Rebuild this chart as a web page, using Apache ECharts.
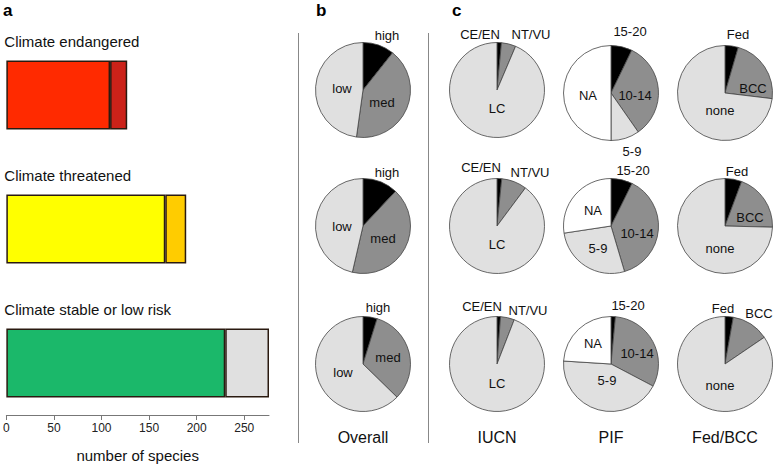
<!DOCTYPE html>
<html><head><meta charset="utf-8">
<script src="https://cdn.jsdelivr.net/npm/echarts@6/dist/echarts.min.js"></script>
<style>html,body{margin:0;padding:0;background:#fff}#c{width:775px;height:468px}</style>
</head><body><div id="c"></div>
<script>
// ---- data ----
const categories = ['Climate endangered', 'Climate threatened', 'Climate stable or low risk'];
const baseCounts = [109, 167, 230];
const extraCounts = [18, 22, 46];
const xTicks = [0, 50, 100, 150, 200, 250];

const riskLabels = ['high', 'med', 'low'];
const overall = [[10.7, 41.5, 47.8], [12.0, 41.6, 46.4], [4.8, 32.5, 62.7]];
const iucnLabels = ['CE/EN', 'NT/VU', 'LC'];
const iucn = [[1.5, 4.9, 93.6], [1.6, 8.6, 89.8], [1.2, 4.7, 94.1]];
const pifLabels = ['15-20', '10-14', '5-9', 'NA'];
const pif = [[7.2, 33.1, 9.7, 50.0], [7.3, 38.1, 27.2, 27.4], [1.5, 31.2, 43.3, 24.0]];
const fedLabels = ['Fed', 'BCC', 'none'];
const fed = [[4.5, 22.4, 73.1], [5.7, 19.7, 74.6], [2.8, 12.7, 84.5]];
const columnTitles = ['Overall', 'IUCN', 'PIF', 'Fed/BCC'];

// ---- layout / style ----
const FONT = 'Liberation Sans, Arial, sans-serif';
const baseColors = ['#ff2a00', '#ffff00', '#1bb86a'];
const extraColors = ['#cc2219', '#ffcc00', '#e0e0e0'];
const pieColors3 = ['#000000', '#8e8e8e', '#e0e0e0'];
const pieColors4 = ['#000000', '#8e8e8e', '#e0e0e0', '#ffffff'];
const colX = [363, 497, 611, 725];
const rowY = [[90, 226, 364], [90, 226, 364], [93, 226, 364], [93, 226, 364]];
const R = 47.5;

const groups = [
  {labels: riskLabels, vals: overall, colors: pieColors3},
  {labels: iucnLabels, vals: iucn, colors: pieColors3},
  {labels: pifLabels, vals: pif, colors: pieColors4},
  {labels: fedLabels, vals: fed, colors: pieColors3}
];
// label positions: [group, row, labelIndex, x, y]
const labelPos = [
  [0,0,0,387,35],[0,0,1,382,102],[0,0,2,342,88],
  [0,1,0,387,172],[0,1,1,383,238],[0,1,2,342,226],
  [0,2,0,378,307],[0,2,1,388,357],[0,2,2,343,372],
  [1,0,0,480,34],[1,0,1,531,34],[1,0,2,497,108],
  [1,1,0,481,167],[1,1,1,530,172],[1,1,2,497,244],
  [1,2,0,482,306],[1,2,1,528,310],[1,2,2,497,383],
  [2,0,0,630,31],[2,0,1,635,95],[2,0,2,632,151],[2,0,3,588,95],
  [2,1,0,633,170],[2,1,1,637,233],[2,1,2,598,248],[2,1,3,593,210],
  [2,2,0,628,305],[2,2,1,637,353],[2,2,2,607,380],[2,2,3,593,343],
  [3,0,0,738,34],[3,0,1,753,88],[3,0,2,720,110],
  [3,1,0,737,171],[3,1,1,750,217],[3,1,2,720,248],
  [3,2,0,723,308],[3,2,1,759,313],[3,2,2,720,385]
];

const series = [
  {type: 'bar', stack: 's', barWidth: 69, silent: true,
   data: baseCounts.map((v, i) => ({value: v, itemStyle: {color: baseColors[i]}})),
   itemStyle: {borderColor: '#2a1a10', borderWidth: 1.5},
   label: {show: true, position: [-2, -19], formatter: p => p.name, fontSize: 15,
           color: '#111', fontFamily: FONT, align: 'left', verticalAlign: 'middle'}},
  {type: 'bar', stack: 's', barWidth: 69, silent: true,
   data: extraCounts.map((v, i) => ({value: v, itemStyle: {color: extraColors[i]}})),
   itemStyle: {borderColor: '#2a1a10', borderWidth: 1.5}}
];

groups.forEach((g, gi) => {
  g.vals.forEach((row, ri) => {
    series.push({
      type: 'pie', silent: true, startAngle: 90, clockwise: true,
      center: [colX[gi], rowY[gi][ri]], radius: [0, R],
      label: {show: false}, labelLine: {show: false},
      itemStyle: {borderColor: '#444', borderWidth: 0.8},
      data: row.map((v, k) => ({name: g.labels[k], value: v, itemStyle: {color: g.colors[k]}}))
    });
  });
});

const graphic = [
  {type: 'line', shape: {x1: 298.5, y1: 33, x2: 298.5, y2: 443}, style: {stroke: '#888', lineWidth: 1}},
  {type: 'line', shape: {x1: 428.5, y1: 33, x2: 428.5, y2: 443}, style: {stroke: '#888', lineWidth: 1}},
  {type: 'text', x: 3, y: 10, style: {text: 'a', font: 'bold 17px ' + FONT, fill: '#000', verticalAlign: 'middle'}},
  {type: 'text', x: 316, y: 10, style: {text: 'b', font: 'bold 17px ' + FONT, fill: '#000', verticalAlign: 'middle'}},
  {type: 'text', x: 452, y: 10, style: {text: 'c', font: 'bold 17px ' + FONT, fill: '#000', verticalAlign: 'middle'}}
];
columnTitles.forEach((t, i) => graphic.push({type: 'text', x: colX[i], y: 437,
  style: {text: t, font: '16px ' + FONT, fill: '#111', align: 'center', verticalAlign: 'middle'}}));
labelPos.forEach(([g, r, k, x, y]) => graphic.push({type: 'text', x: x, y: y, z: 100,
  style: {text: groups[g].labels[k], font: '13px ' + FONT, fill: '#111', align: 'center', verticalAlign: 'middle'}}));

const chart = echarts.init(document.getElementById('c'), null, {renderer: 'svg'});
chart.setOption({
  animation: false,
  textStyle: {fontFamily: FONT},
  grid: {left: 5, width: 264, top: 28, height: 405},
  xAxis: {type: 'value', min: 0, max: 276, offset: -15,
    axisLine: {show: true, lineStyle: {color: '#777', width: 1}},
    axisTick: {show: true, length: 5, customValues: xTicks, lineStyle: {color: '#777'}},
    axisLabel: {customValues: xTicks, fontSize: 12, color: '#222', margin: 7},
    splitLine: {show: false},
    name: 'number of species', nameLocation: 'middle', nameGap: 33,
    nameTextStyle: {fontSize: 15, color: '#111'}},
  yAxis: {type: 'category', data: categories, inverse: true, show: false},
  series: series,
  graphic: {elements: graphic}
});
</script></body></html>
